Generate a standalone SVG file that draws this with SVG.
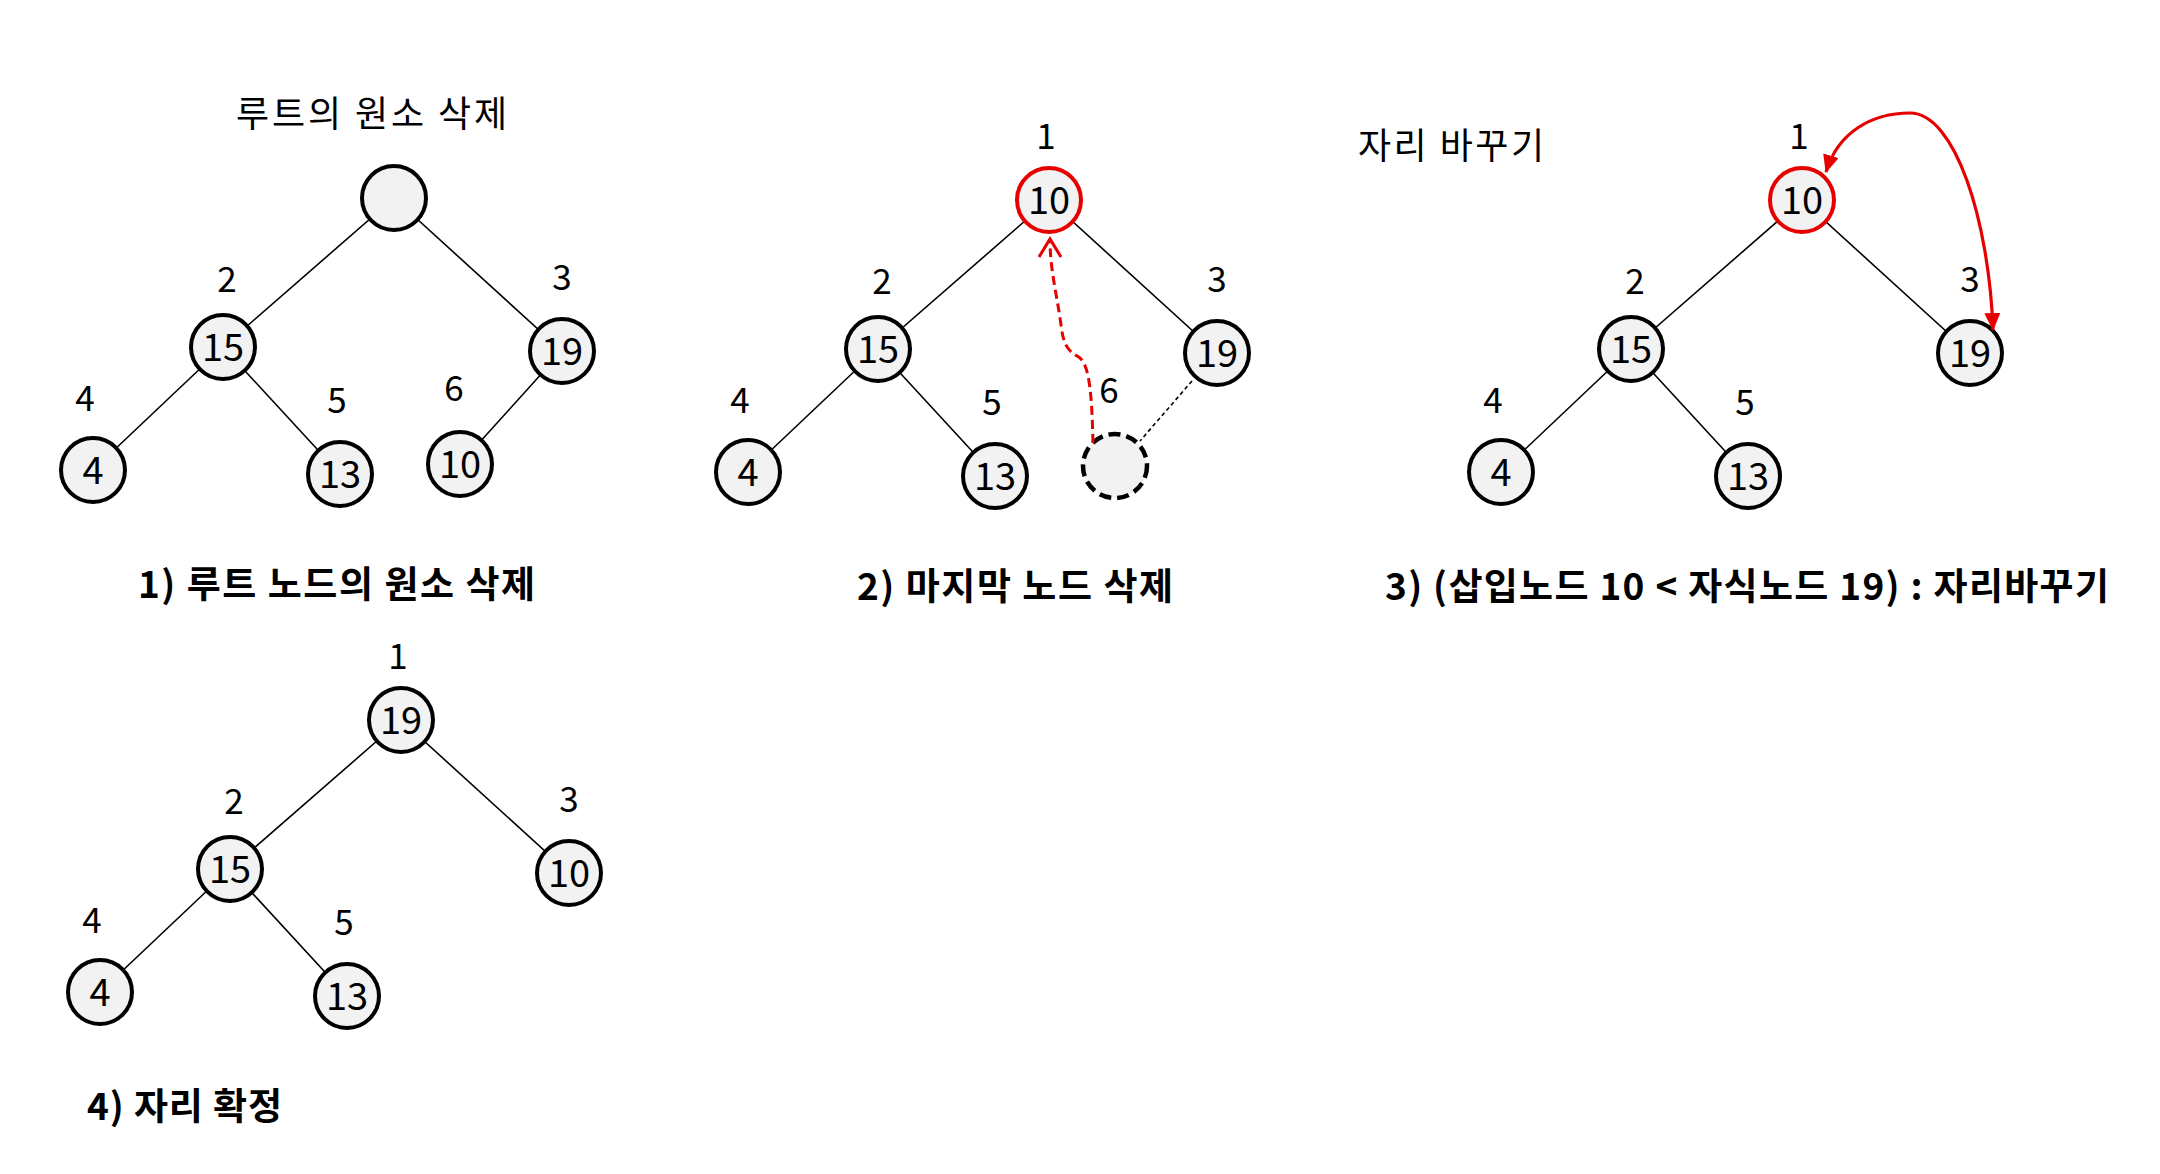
<svg xmlns="http://www.w3.org/2000/svg" width="2160" height="1174" viewBox="0 0 2160 1174">
<style>
text{font-family:"Noto Sans CJK KR","Noto Sans",sans-serif;fill:#000}
.node{fill:#f2f2f2;stroke:#000;stroke-width:4}
.red{stroke:#e60000}
.ghost{stroke-dasharray:12 6;stroke-width:4.5}
.val{font-size:38px;text-anchor:middle}
.idx{font-size:35px;text-anchor:middle}
.edge{stroke:#000;stroke-width:1.6;fill:none}
.thin-dash{stroke-dasharray:4 3}
.title{font-size:36px}
.cap{font-size:37px;font-weight:bold}
</style>
<defs>
<marker id="openArrow" markerUnits="userSpaceOnUse" markerWidth="26" markerHeight="26" refX="19" refY="11" orient="auto" viewBox="0 0 26 22">
<path d="M1,0 L19,11 L1,22" fill="none" stroke="#e60000" stroke-width="3" stroke-dasharray="none"/>
</marker>
<marker id="solidArrow" markerUnits="userSpaceOnUse" markerWidth="18" markerHeight="16" refX="17" refY="8" orient="auto-start-reverse" viewBox="0 0 18 16">
<path d="M0,0 L18,8 L0,16 Z" fill="#e60000"/>
</marker>
</defs>
<rect width="2160" height="1174" fill="#fff"/>

<!-- connectors -->
<g id="connectors">
  <g transform="translate(0,0)">
    <line class="edge" x1="394" y1="198" x2="223" y2="347"/>
    <line class="edge" x1="394" y1="198" x2="562" y2="351"/>
    <line class="edge" x1="223" y1="347" x2="93" y2="470"/>
    <line class="edge" x1="223" y1="347" x2="340" y2="474"/>
    <line class="edge" x1="562" y1="351" x2="460" y2="464"/>
  </g>
  <g transform="translate(655,2)">
    <line class="edge" x1="394" y1="198" x2="223" y2="347"/>
    <line class="edge" x1="394" y1="198" x2="562" y2="351"/>
    <line class="edge" x1="223" y1="347" x2="93" y2="470"/>
    <line class="edge" x1="223" y1="347" x2="340" y2="474"/>
    <line class="edge thin-dash" x1="537" y1="379" x2="485" y2="439"/>
  </g>
  <g transform="translate(1408,2)">
    <line class="edge" x1="394" y1="198" x2="223" y2="347"/>
    <line class="edge" x1="394" y1="198" x2="562" y2="351"/>
    <line class="edge" x1="223" y1="347" x2="93" y2="470"/>
    <line class="edge" x1="223" y1="347" x2="340" y2="474"/>
  </g>
  <g transform="translate(7,522)">
    <line class="edge" x1="394" y1="198" x2="223" y2="347"/>
    <line class="edge" x1="394" y1="198" x2="562" y2="351"/>
    <line class="edge" x1="223" y1="347" x2="93" y2="470"/>
    <line class="edge" x1="223" y1="347" x2="340" y2="474"/>
  </g>
</g>

<!-- panel 1 -->
<g id="panel1">
  <text class="title" x="236" y="127" textLength="271" lengthAdjust="spacing">루트의 원소 삭제</text>
  <g id="p1-root"><circle class="node" cx="394" cy="198" r="32"/></g>
  <g id="p1-n2"><circle class="node" cx="223" cy="347" r="32"/><text class="val" x="223" y="360.5">15</text></g>
  <g id="p1-n3"><circle class="node" cx="562" cy="351" r="32"/><text class="val" x="562" y="364.5">19</text></g>
  <g id="p1-n4"><circle class="node" cx="93" cy="470" r="32"/><text class="val" x="93" y="483.5">4</text></g>
  <g id="p1-n5"><circle class="node" cx="340" cy="474" r="32"/><text class="val" x="340" y="487.5">13</text></g>
  <g id="p1-n6"><circle class="node" cx="460" cy="464" r="32"/><text class="val" x="460" y="477.5">10</text></g>
  <text class="idx" x="227" y="292">2</text>
  <text class="idx" x="562" y="290">3</text>
  <text class="idx" x="85" y="411">4</text>
  <text class="idx" x="337" y="413">5</text>
  <text class="idx" x="454" y="401">6</text>
  <text class="cap" x="138" y="598" textLength="397" lengthAdjust="spacing">1) 루트 노드의 원소 삭제</text>
</g>

<!-- panel 2 -->
<g id="panel2" transform="translate(655,2)">
  <g id="p2-root"><circle class="node red" cx="394" cy="198" r="32"/><text class="val" x="394" y="211.5">10</text></g>
  <g id="p2-n2"><circle class="node" cx="223" cy="347" r="32"/><text class="val" x="223" y="360.5">15</text></g>
  <g id="p2-n3"><circle class="node" cx="562" cy="351" r="32"/><text class="val" x="562" y="364.5">19</text></g>
  <g id="p2-n4"><circle class="node" cx="93" cy="470" r="32"/><text class="val" x="93" y="483.5">4</text></g>
  <g id="p2-n5"><circle class="node" cx="340" cy="474" r="32"/><text class="val" x="340" y="487.5">13</text></g>
  <g id="p2-n6"><circle class="node ghost" cx="460" cy="464" r="32"/></g>
  <text class="idx" x="391" y="147">1</text>
  <text class="idx" x="227" y="292">2</text>
  <text class="idx" x="562" y="290">3</text>
  <text class="idx" x="85" y="411">4</text>
  <text class="idx" x="337" y="413">5</text>
  <text class="idx" x="454" y="401">6</text>
  <text class="cap" x="202" y="598" textLength="316" lengthAdjust="spacing">2) 마지막 노드 삭제</text>
</g>

<!-- panel 3 -->
<g id="panel3" transform="translate(1408,2)">
  <text class="title" x="-50" y="157" textLength="186" lengthAdjust="spacing">자리 바꾸기</text>
  <g id="p3-root"><circle class="node red" cx="394" cy="198" r="32"/><text class="val" x="394" y="211.5">10</text></g>
  <g id="p3-n2"><circle class="node" cx="223" cy="347" r="32"/><text class="val" x="223" y="360.5">15</text></g>
  <g id="p3-n3"><circle class="node" cx="562" cy="351" r="32"/><text class="val" x="562" y="364.5">19</text></g>
  <g id="p3-n4"><circle class="node" cx="93" cy="470" r="32"/><text class="val" x="93" y="483.5">4</text></g>
  <g id="p3-n5"><circle class="node" cx="340" cy="474" r="32"/><text class="val" x="340" y="487.5">13</text></g>
  <text class="idx" x="391" y="147">1</text>
  <text class="idx" x="227" y="292">2</text>
  <text class="idx" x="562" y="290">3</text>
  <text class="idx" x="85" y="411">4</text>
  <text class="idx" x="337" y="413">5</text>
  <text class="cap" x="-23" y="598" textLength="724" lengthAdjust="spacing">3) (삽입노드 10 &lt; 자식노드 19) : 자리바꾸기</text>
</g>

<!-- panel 4 -->
<g id="panel4" transform="translate(7,522)">
  <g id="p4-root"><circle class="node" cx="394" cy="198" r="32"/><text class="val" x="394" y="211.5">19</text></g>
  <g id="p4-n2"><circle class="node" cx="223" cy="347" r="32"/><text class="val" x="223" y="360.5">15</text></g>
  <g id="p4-n3"><circle class="node" cx="562" cy="351" r="32"/><text class="val" x="562" y="364.5">10</text></g>
  <g id="p4-n4"><circle class="node" cx="93" cy="470" r="32"/><text class="val" x="93" y="483.5">4</text></g>
  <g id="p4-n5"><circle class="node" cx="340" cy="474" r="32"/><text class="val" x="340" y="487.5">13</text></g>
  <text class="idx" x="391" y="147">1</text>
  <text class="idx" x="227" y="292">2</text>
  <text class="idx" x="562" y="290">3</text>
  <text class="idx" x="85" y="411">4</text>
  <text class="idx" x="337" y="413">5</text>
  <text class="cap" x="80" y="598" textLength="195" lengthAdjust="spacing">4) 자리 확정</text>
</g>

<!-- red arrows -->
<g id="red-arrows">
  <path d="M1093,443 C1092,400 1090,366 1080,358 C1070,351 1064,350 1061,325 C1057,295 1050,270 1050,239" fill="none" stroke="#e60000" stroke-width="3" stroke-dasharray="9 5" marker-end="url(#openArrow)"/>
  <path d="M1826,172 C1838,132 1872,113 1910,113 C1955,113 1989,220 1993,330" fill="none" stroke="#e60000" stroke-width="3.2" marker-start="url(#solidArrow)" marker-end="url(#solidArrow)"/>
</g>
</svg>
